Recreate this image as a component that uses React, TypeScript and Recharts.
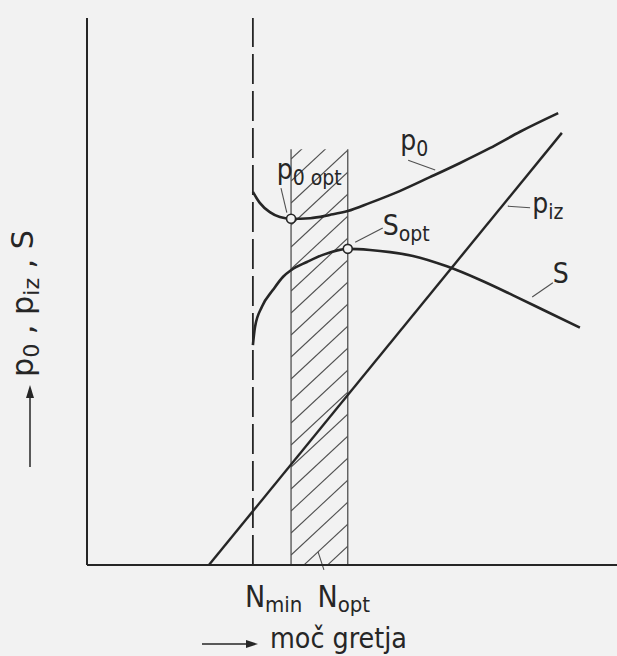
import React from 'react';
import {
  ComposedChart,
  Line,
  Scatter,
  XAxis,
  YAxis,
  ReferenceLine,
  ReferenceArea,
  ReferenceDot,
  Label,
} from 'recharts';

// heating power (x) against p0, piz, S (y), arbitrary units 0..10
const nMin = 3.13;
const hatchFrom = 3.85;
const hatchTo = 4.92;
const hatchTop = 7.6;
const nTicks = [nMin, 4.5];
const nTickSubs = ['min', 'opt'];

const p0X = [3.13, 3.26, 3.45, 3.64, 3.85, 4.21, 4.58, 4.92, 5.34, 5.91, 6.47, 7.04, 7.6, 8.17, 8.89];
const p0Y = [6.82, 6.62, 6.45, 6.36, 6.33, 6.34, 6.4, 6.47, 6.62, 6.84, 7.09, 7.35, 7.62, 7.92, 8.26];

const sX = [3.13, 3.17, 3.3, 3.51, 3.7, 3.85, 4.15, 4.45, 4.92, 5.34, 5.72, 6.15, 6.79, 7.42, 8.04, 8.68, 9.3];
const sY = [4.02, 4.35, 4.72, 5.03, 5.27, 5.39, 5.54, 5.67, 5.78, 5.76, 5.72, 5.65, 5.46, 5.21, 4.93, 4.63, 4.34];

const pizX = [2.3, 8.96];
const pizY = [0, 7.9];

const optX = [3.85, 4.92];
const optY = [6.33, 5.78];

const zip = (xs: number[], ys: number[]) => xs.map((x, i) => ({ x, y: ys[i] }));
const p0Data = zip(p0X, p0Y);
const sData = zip(sX, sY);
const pizData = zip(pizX, pizY);
const optData = zip(optX, optY);

const INK = '#262626';
const THIN = '#505050';
const BG = '#f2f2f2';
const FONT = "'DejaVu Sans Condensed', 'Liberation Sans Narrow', 'DejaVu Sans', sans-serif";

// curve labels: letter + subscript, anchored in chart units
const notes = [
  { x: 3.58, y: 7.06, main: 'p', sub: '0 opt' },
  { x: 5.91, y: 7.59, main: 'p', sub: '0' },
  { x: 5.58, y: 6.03, main: 'S', sub: 'opt' },
  { x: 8.4, y: 6.44, main: 'p', sub: 'iz' },
  { x: 8.79, y: 5.16, main: 'S', sub: '' },
];

const leaders = [
  [3.66, 6.89, 3.77, 6.44],
  [6.06, 7.4, 6.57, 7.22],
  [5.58, 6.16, 5.06, 5.9],
  [7.94, 6.56, 8.36, 6.53],
  [8.4, 4.9, 8.79, 5.16],
  [4.36, 0.24, 4.47, -0.09],
];

// diagonal hatching inside the optimum band
const Hatch = (props: any) => {
  const { x, y, width, height } = props;
  const rise = width * 0.93;
  const lines = [];
  for (let yk = y + height - 10 + 22 * 3; yk > y; yk -= 22) {
    lines.push(
      <line key={yk} x1={x} y1={yk} x2={x + width} y2={yk - rise} stroke={THIN} strokeWidth={1.1} />
    );
  }
  return (
    <g>
      <defs>
        <clipPath id="hatchClip">
          <rect x={x} y={y} width={width} height={height} />
        </clipPath>
      </defs>
      <g clipPath="url(#hatchClip)">{lines}</g>
    </g>
  );
};

const NTick = (props: any) => {
  const { x, y, index } = props;
  return (
    <text x={x - 8} y={y + 42} fill={INK} fontFamily={FONT} fontSize={30}>
      N
      <tspan fontSize={22} dy={5}>
        {nTickSubs[index]}
      </tspan>
    </text>
  );
};

const XTitle = (props: any) => {
  const vb = props.viewBox;
  const y = vb.y + 79;
  return (
    <g>
      <line x1={202} y1={y} x2={250} y2={y} stroke={INK} strokeWidth={1.5} />
      <path d={`M258 ${y} L246 ${y - 4} L246 ${y + 4} Z`} fill={INK} />
      <text x={270} y={vb.y + 83} fill={INK} fontFamily={FONT} fontSize={28} textLength={137} lengthAdjust="spacingAndGlyphs">
        moč gretja
      </text>
    </g>
  );
};

const YTitle = (props: any) => {
  const vb = props.viewBox;
  const top = vb.y;
  return (
    <g>
      <line x1={30} y1={top + 449} x2={30} y2={top + 377} stroke={INK} strokeWidth={1.5} />
      <path d={`M30 ${top + 367} L26 ${top + 380} L34 ${top + 380} Z`} fill={INK} />
      <text
        transform={`translate(33, ${top + 359}) rotate(-90)`}
        fill={INK}
        fontFamily={FONT}
        fontSize={30}
        textLength={147}
        lengthAdjust="spacingAndGlyphs"
      >
        p<tspan fontSize={22} dy={6}>0</tspan>
        <tspan dy={-6}> , p</tspan>
        <tspan fontSize={22} dy={6}>iz</tspan>
        <tspan dy={-6}> , S</tspan>
      </text>
    </g>
  );
};

const OpenDot = (props: any) => (
  <circle cx={props.cx} cy={props.cy} r={4.5} fill={BG} stroke={INK} strokeWidth={1.6} />
);

export default function App() {
  return (
    <div style={{ position: 'absolute', left: 0, top: 0, width: 617, height: 656, background: BG }}>
      <ComposedChart width={617} height={656} margin={{ top: 18, right: 0, bottom: 0, left: 27 }}>
        <XAxis
          type="number"
          dataKey="x"
          domain={[0, 10]}
          allowDataOverflow
          ticks={nTicks}
          tick={<NTick />}
          tickLine={false}
          tickSize={0}
          tickMargin={0}
          height={91}
          axisLine={{ stroke: INK, strokeWidth: 2 }}
        >
          <Label content={<XTitle />} />
        </XAxis>
        <YAxis
          type="number"
          dataKey="y"
          domain={[0, 10]}
          allowDataOverflow
          width={60}
          tick={false}
          tickLine={false}
          axisLine={{ stroke: INK, strokeWidth: 2 }}
        >
          <Label content={<YTitle />} />
        </YAxis>

        <ReferenceArea x1={hatchFrom} x2={hatchTo} y1={0} y2={hatchTop} shape={<Hatch />} />
        <ReferenceLine segment={[{ x: hatchFrom, y: 0 }, { x: hatchFrom, y: hatchTop }]} stroke={THIN} strokeWidth={1.3} />
        <ReferenceLine segment={[{ x: hatchTo, y: 0 }, { x: hatchTo, y: hatchTop }]} stroke={THIN} strokeWidth={1.3} />
        <ReferenceLine x={nMin} stroke={INK} strokeWidth={1.8} strokeDasharray="30 7" ifOverflow="visible" />

        {leaders.map((l, i) => (
          <ReferenceLine
            key={`ld-${i}`}
            segment={[{ x: l[0], y: l[1] }, { x: l[2], y: l[3] }]}
            stroke={THIN}
            strokeWidth={1.1}
            ifOverflow="visible"
          />
        ))}

        <Line data={pizData} dataKey="y" type="linear" stroke={INK} strokeWidth={2.4} dot={false} isAnimationActive={false} />
        <Line data={p0Data} dataKey="y" type="monotone" stroke={INK} strokeWidth={2.6} dot={false} isAnimationActive={false} />
        <Line data={sData} dataKey="y" type="monotone" stroke={INK} strokeWidth={2.6} dot={false} isAnimationActive={false} />
        <Scatter data={optData} dataKey="y" shape={<OpenDot />} isAnimationActive={false} />

        {notes.map((n, i) => (
          <ReferenceDot
            key={`nt-${i}`}
            x={n.x}
            y={n.y}
            r={0}
            ifOverflow="visible"
            shape={(p: any) => (
              <text x={p.cx} y={p.cy} fill={INK} fontFamily={FONT} fontSize={28}>
                {n.main}
                {n.sub && (
                  <tspan fontSize={21} dy={6}>
                    {n.sub}
                  </tspan>
                )}
              </text>
            )}
          />
        ))}
      </ComposedChart>
    </div>
  );
}
